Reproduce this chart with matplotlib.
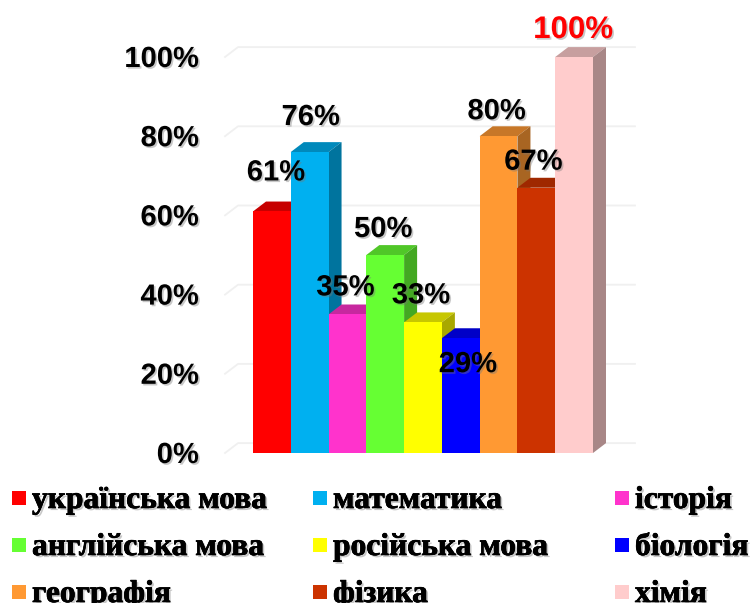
import matplotlib
matplotlib.use("Agg")
import matplotlib.pyplot as plt
import matplotlib.patheffects as pe
from matplotlib.colors import to_rgb
from matplotlib.patches import Polygon, Rectangle
from matplotlib.transforms import ScaledTranslation

W = 755
H = 603

subjects = ["українська мова", "математика", "історія",
            "англійська мова", "російська мова", "біологія",
            "географія", "фізика", "хімія"]
values = [61, 76, 35, 50, 33, 29, 80, 67, 100]
colors = ["#FF0000", "#00B0F0", "#FF33CC", "#66FF33", "#FFFF00",
          "#0000FF", "#FF9933", "#CC3300", "#FFCCCC"]
y_ticks = [0, 20, 40, 60, 80, 100]

# label offsets from the top centre of each bar, in pixels
label_dx = [4, 1, -2, -2, -2, 7, -2, -3, -1]
label_dy = [39, 35, 27, 26, 27, -26, 25, 26, 27]

DEPTH_X = 0.344
DEPTH_Y = 2.5


def shade(color, k):
    return tuple(c * k for c in to_rgb(color))


def shadow():
    return [pe.withSimplePatchShadow(offset=(1.2, -1.2), shadow_rgbFace="#777777", alpha=0.4)]


def main():
    fig = plt.figure(figsize=(W / 100, H / 100), dpi=100)
    # axes box follows the front face of the bars
    ax = fig.add_axes([253 / W, 1 - 453 / H, 340 / W, 396 / H])
    ax.set_xlim(-0.5, 8.5)
    ax.set_ylim(0, 100)

    for s in ax.spines.values():
        s.set_visible(False)
    ax.set_xticks([])
    ax.set_yticks(y_ticks)
    ax.set_yticklabels([f"{t}%" for t in y_ticks], family="Liberation Sans",
                       fontweight="bold", fontsize=21, color="black")
    ax.tick_params(axis="y", length=0, pad=39)
    nudge = ScaledTranslation(0, 1 / 100, fig.dpi_scale_trans)
    for lab in ax.get_yticklabels():
        lab.set_path_effects(shadow())
        lab.set_transform(lab.get_transform() + nudge)

    # walls: gridlines on the back plane with a short diagonal on the floor side
    left_front = -0.5 - 28 / 37.8
    left_back = left_front + DEPTH_X
    right = 8.5 + 42 / 37.8
    for t in y_ticks:
        ax.plot([left_front, left_back, right], [t, t + DEPTH_Y, t + DEPTH_Y],
                color="#F0F0F0", lw=1.3, clip_on=False, zorder=1)

    for i, (v, c) in enumerate(zip(values, colors)):
        z = 3 + i
        ax.bar(i, v, width=1.0, color=c, zorder=z + 0.5, linewidth=0)
        top = Polygon([(i - 0.5, v), (i - 0.5 + DEPTH_X, v + DEPTH_Y),
                       (i + 0.5 + DEPTH_X, v + DEPTH_Y), (i + 0.5, v)],
                      closed=True, fc=shade(c, 0.78), ec="none", zorder=z, clip_on=False)
        side = Polygon([(i + 0.5, 0), (i + 0.5 + DEPTH_X, DEPTH_Y),
                        (i + 0.5 + DEPTH_X, v + DEPTH_Y), (i + 0.5, v)],
                       closed=True, fc=shade(c, 0.66), ec="none", zorder=z, clip_on=False)
        ax.add_patch(top)
        ax.add_patch(side)

    for i, v in enumerate(values):
        top_bar = v == max(values)
        ax.annotate(f"{v}%", xy=(i, v), xytext=(label_dx[i], label_dy[i]),
                    textcoords="offset pixels", ha="center", va="center",
                    family="Liberation Sans", fontweight="bold",
                    fontsize=22.5 if top_bar else 21,
                    color="#FF0000" if top_bar else "black",
                    annotation_clip=False, zorder=30, path_effects=shadow())

    # legend is laid out by hand, the last row runs off the bottom of the picture
    col_x = [12, 313, 615]
    row_y = [498, 545, 592]
    heavy = [pe.withSimplePatchShadow(offset=(1.5, -1.5), shadow_rgbFace="#777777", alpha=0.4),
             pe.withStroke(linewidth=0.5, foreground="black")]
    for i, (name, c) in enumerate(zip(subjects, colors)):
        x = col_x[i % 3]
        y = row_y[i // 3]
        fig.add_artist(Rectangle((x / W, 1 - (y + 7) / H), 14 / W, 14 / H,
                                 transform=fig.transFigure, fc=c, ec="none"))
        fig.text((x + 20) / W, 1 - (y - 1) / H, name, family="Liberation Serif",
                 fontweight="bold", fontsize=22.7, va="center_baseline", ha="left",
                 color="black", path_effects=heavy)

    fig.savefig("out.png", dpi=100, facecolor="white")


if __name__ == "__main__":
    main()
